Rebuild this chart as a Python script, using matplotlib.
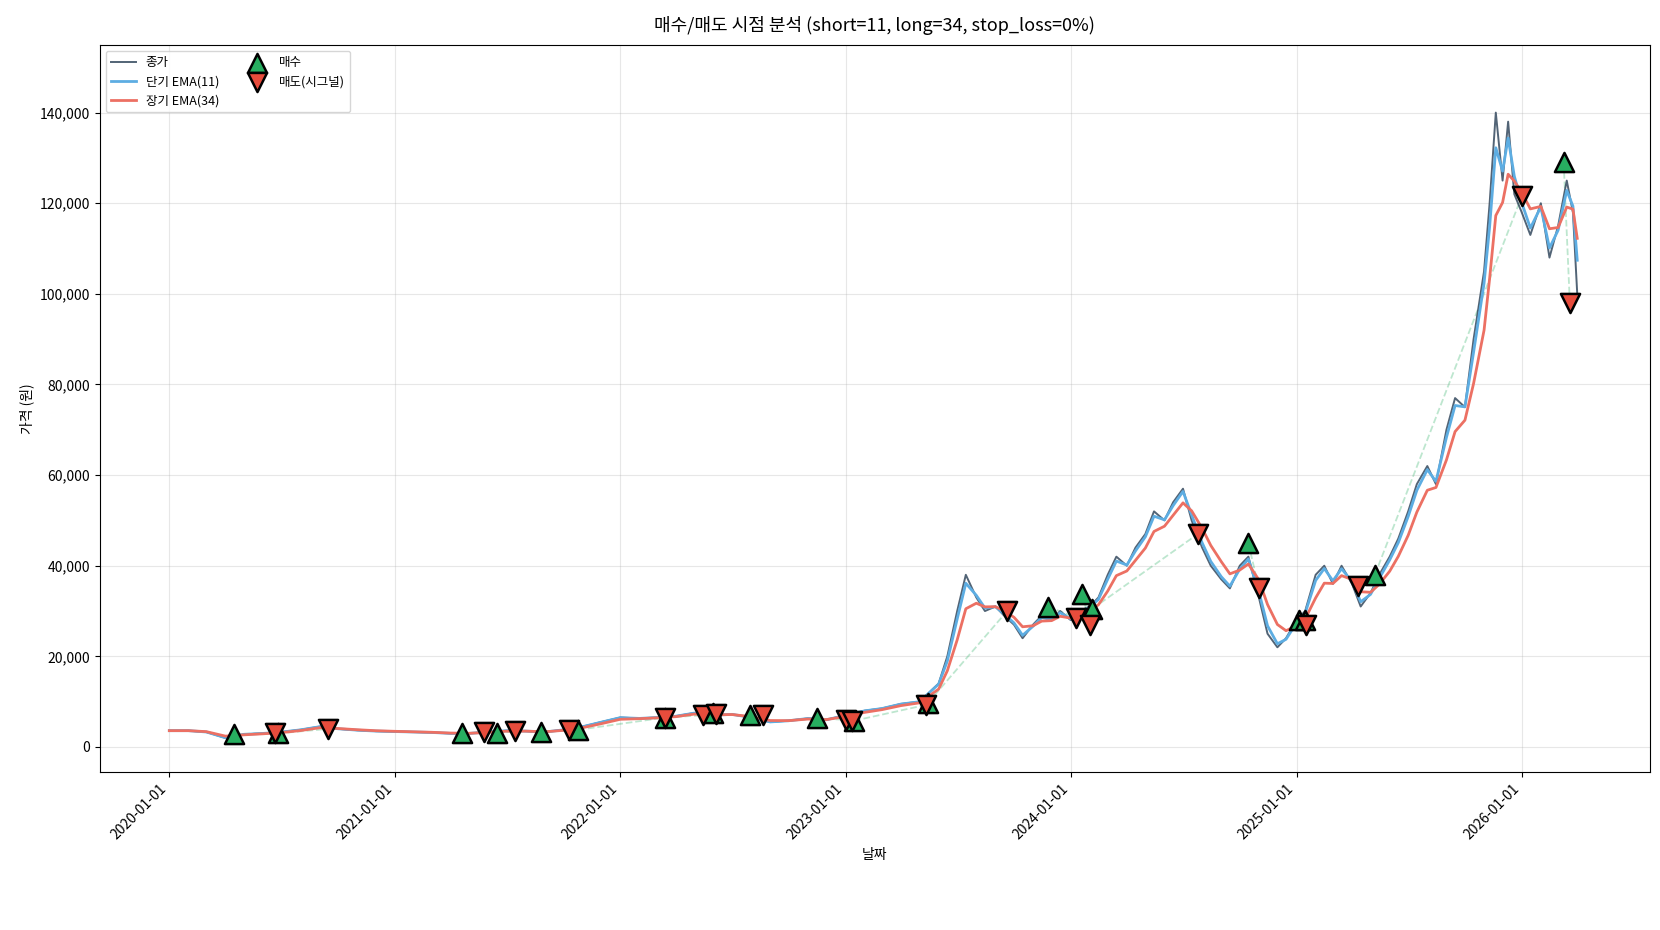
import matplotlib
matplotlib.use("Agg")
import matplotlib.pyplot as plt
import matplotlib.dates as mdates
import pandas as pd
from matplotlib.ticker import FuncFormatter

plt.rcParams['font.family'] = ['Noto Sans CJK KR', 'Noto Sans CJK JP', 'Noto Sans CJK SC', 'DejaVu Sans']
plt.rcParams['axes.unicode_minus'] = False

price_dates = ["2020-01-01","2020-02-01","2020-03-01","2020-04-01","2020-05-01","2020-06-01","2020-07-01","2020-08-01","2020-09-01","2020-10-01","2020-11-01","2020-12-01",
"2021-01-01","2021-02-01","2021-03-01","2021-04-01","2021-05-01","2021-06-01","2021-07-01","2021-08-01","2021-09-01","2021-10-01","2021-11-01","2021-12-01",
"2022-01-01","2022-02-01","2022-03-01","2022-04-01","2022-05-01","2022-06-01","2022-07-01","2022-08-01","2022-09-01","2022-10-01","2022-11-01","2022-12-01",
"2023-01-01","2023-02-01","2023-03-01","2023-04-01","2023-05-01","2023-06-01","2023-06-15","2023-07-01","2023-07-15","2023-08-01","2023-08-15","2023-09-01","2023-09-15","2023-10-01","2023-10-15","2023-11-01","2023-11-15","2023-12-01","2023-12-15",
"2024-01-01","2024-01-15","2024-02-01","2024-02-15","2024-03-01","2024-03-15","2024-04-01","2024-04-15","2024-05-01","2024-05-15","2024-06-01","2024-06-15","2024-07-01","2024-07-15","2024-08-01","2024-08-15","2024-09-01","2024-09-15","2024-10-01","2024-10-15","2024-11-01","2024-11-15","2024-12-01","2024-12-15",
"2025-01-01","2025-01-15","2025-02-01","2025-02-15","2025-03-01","2025-03-15","2025-04-01","2025-04-15","2025-05-01","2025-05-15","2025-06-01","2025-06-15","2025-07-01","2025-07-15","2025-08-01","2025-08-15","2025-09-01","2025-09-15","2025-10-01","2025-10-15","2025-11-01","2025-11-10","2025-11-20","2025-12-01","2025-12-10","2025-12-20",
"2026-01-01","2026-01-15","2026-02-01","2026-02-15","2026-03-01","2026-03-15","2026-03-25","2026-04-01"]
price_values = [3600,3600,3300,2000,2800,3000,3300,3800,4500,4000,3700,3500,
3400,3300,3200,3000,3000,3300,3600,3500,3300,3800,4500,5500,
6500,6300,6500,6800,7500,7000,7200,6500,5500,5800,6300,6000,
7000,8000,8500,9500,10000,14000,20000,30000,38000,33000,30000,31000,29000,27000,24000,27000,29000,28000,30000,
28000,30000,31000,33000,38000,42000,40000,44000,47000,52000,50000,54000,57000,50000,44000,40000,37000,35000,40000,42000,33000,25000,22000,24000,
28000,30000,38000,40000,36000,40000,36000,31000,34000,38000,42000,46000,52000,58000,62000,58000,70000,77000,75000,90000,105000,120000,140000,125000,138000,122000,
118000,113000,120000,108000,115000,125000,118000,100000]

buy_dates = ["2020-04-15","2020-06-25","2021-04-20","2021-06-15","2021-08-25","2021-10-25","2022-03-15","2022-06-01","2022-07-30","2022-11-15","2023-01-15","2023-05-15","2023-11-25","2024-01-20","2024-02-05","2024-10-15","2025-01-05","2025-01-15","2025-05-08","2026-03-10"]
buy_prices = [2900,3000,3000,3000,3300,3800,6500,7400,7000,6300,5800,9800,31000,33800,30500,45000,28000,28000,38000,129000]
sell_dates = ["2020-06-20","2020-09-15","2021-05-25","2021-07-15","2021-10-10","2022-03-15","2022-05-15","2022-06-05","2022-08-20","2023-01-01","2023-01-12","2023-05-12","2023-09-20","2024-01-10","2024-02-01","2024-07-25","2024-11-01","2025-01-17","2025-04-10","2026-01-01","2026-03-20"]
sell_prices = [3000,4000,3300,3500,3700,6500,7000,7300,7000,6000,5800,9300,30000,28500,27000,47000,35000,27000,35500,121500,98000]
x_ticks = ["2020-01-01","2021-01-01","2022-01-01","2023-01-01","2024-01-01","2025-01-01","2026-01-01"]

s = pd.Series(price_values, index=pd.to_datetime(price_dates))
ema_s = s.ewm(halflife=pd.Timedelta(days=6), times=s.index).mean()
ema_l = s.ewm(halflife=pd.Timedelta(days=17), times=s.index).mean()
bd = pd.to_datetime(buy_dates); sd = pd.to_datetime(sell_dates)

fig, ax = plt.subplots(figsize=(16.6, 9.3), dpi=100)
fig.subplots_adjust(left=0.06, right=0.994, top=0.952, bottom=0.17)

for d, p in zip(bd, buy_prices):
    nxt = [(sd2, sp) for sd2, sp in zip(sd, sell_prices) if sd2 > d]
    if nxt:
        ax.plot([d, nxt[0][0]], [p, nxt[0][1]], '--', color='#27ae60', alpha=0.3, lw=1.3)

ax.plot(s.index, s.values, color='#34495e', lw=1.4, alpha=0.85, label='종가')
ax.plot(ema_s.index, ema_s.values, color='#5dade2', lw=2, label='단기 EMA(11)')
ax.plot(ema_l.index, ema_l.values, color='#ec7063', lw=2, label='장기 EMA(34)')
ax.scatter(bd, buy_prices, marker='^', s=190, color='#27ae60', edgecolor='black', linewidth=1.8, zorder=5, label='매수')
ax.scatter(sd, sell_prices, marker='v', s=190, color='#e74c3c', edgecolor='black', linewidth=1.8, zorder=5, label='매도(시그널)')

ax.set_xticks(pd.to_datetime(x_ticks))
ax.xaxis.set_major_formatter(mdates.DateFormatter('%Y-%m-%d'))
plt.setp(ax.get_xticklabels(), rotation=45, ha='right')
ax.set_xlim(pd.Timestamp("2019-09-10"), pd.Timestamp("2026-07-28"))
ax.set_ylim(-5500, 155000)
ax.yaxis.set_major_formatter(FuncFormatter(lambda v, p: f"{int(v):,}"))
ax.grid(True, alpha=0.3)
ax.set_xlabel('날짜')
ax.set_ylabel('가격 (원)')
ax.set_title('매수/매도 시점 분석 (short=11, long=34, stop_loss=0%)', fontsize=13, pad=10)
ax.legend(loc='upper left', ncol=2, fontsize=9)
fig.savefig('out.png')
